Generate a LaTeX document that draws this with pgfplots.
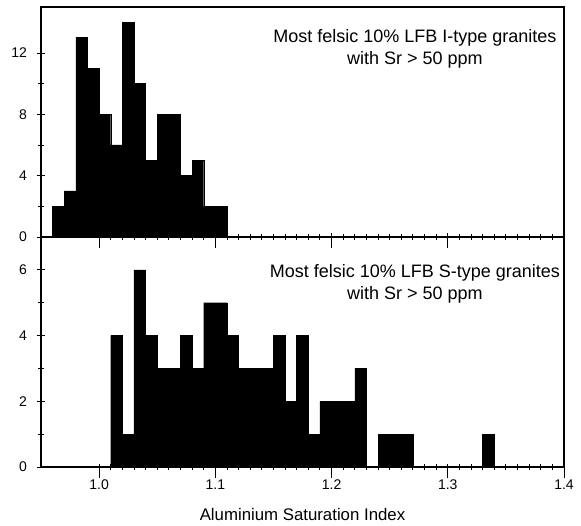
\documentclass[border=0pt]{standalone}
\usepackage{pgfplots}
\pgfplotsset{compat=1.18}
\usepackage{fontspec}
\setmainfont{Liberation Sans}

\pgfplotsset{
  asi/.style={
    scale only axis, width=523pt, height=230pt,
    xmin=0.95, xmax=1.4, ymin=0,
    xtick={1.0,1.1,1.2,1.3,1.4},
    minor x tick num=9, minor y tick num=1,
    xtick pos=lower, ytick pos=left,
    tick align=center,
    major tick length=7pt, minor tick length=6pt,
    axis line style={line width=1.2pt},
    every tick/.style={black, line width=0.9pt},
    tick label style={font=\fontsize{14}{14}\selectfont},
    yticklabel style={xshift=-7pt},
    /pgf/number format/assume math mode=true,
    axis on top,
    extra x ticks={1.0,1.1,1.2,1.3,1.4},
    extra x tick labels={},
    extra x tick style={tick align=outside, major tick length=11pt},
  },
  bars/.style={ybar interval, fill=black, draw=black, line width=0.4pt},
}
\tikzset{note/.style={anchor=base, font=\fontsize{18}{18}\selectfont}}

\begin{document}
\begin{tikzpicture}
% lower panel: S-type
\begin{axis}[asi, at={(0,0)}, anchor=south west,
  ymax=7, ytick={0,2,4,6},
  xticklabels={1.0,1.1,1.2,1.3,1.4},
  xticklabel style={yshift=-6pt},
  xlabel={Aluminium Saturation Index},
  xlabel style={at={(axis description cs:0.5,0)}, anchor=base, yshift=-53pt,
                font=\fontsize{16.8}{17}\selectfont},
]
\addplot[bars] coordinates {
  (1.01,4) (1.02,1) (1.03,6) (1.04,4) (1.05,3) (1.06,3) (1.07,4) (1.08,3)
  (1.09,5) (1.10,5) (1.11,4) (1.12,3) (1.13,3) (1.14,3) (1.15,4) (1.16,2)
  (1.17,4) (1.18,1) (1.19,2) (1.20,2) (1.21,2) (1.22,3) (1.23,0) (1.24,1)
  (1.25,1) (1.26,1) (1.27,0) (1.33,1) (1.34,0)
};
\node[note, yshift=-40pt] at (rel axis cs:0.715,1) {Most felsic 10\% LFB S-type granites};
\node[note, yshift=-62pt] at (rel axis cs:0.715,1) {with Sr > 50 ppm};
\end{axis}

% upper panel: I-type
\begin{axis}[asi, at={(0,230pt)}, anchor=south west,
  ymax=15, ytick={0,4,8,12},
  xticklabels={},
]
\addplot[bars] coordinates {
  (0.96,2) (0.97,3) (0.98,13) (0.99,11) (1.00,8) (1.01,6) (1.02,14) (1.03,10)
  (1.04,5) (1.05,8) (1.06,8) (1.07,4) (1.08,5) (1.09,2) (1.10,2) (1.11,0)
};
\node[note, yshift=-36pt] at (rel axis cs:0.715,1) {Most felsic 10\% LFB I-type granites};
\node[note, yshift=-58pt] at (rel axis cs:0.715,1) {with Sr > 50 ppm};
\end{axis}

\pgfresetboundingbox
\path[use as bounding box] (-41pt,-58pt) rectangle (540pt,467pt);
\end{tikzpicture}
\end{document}
